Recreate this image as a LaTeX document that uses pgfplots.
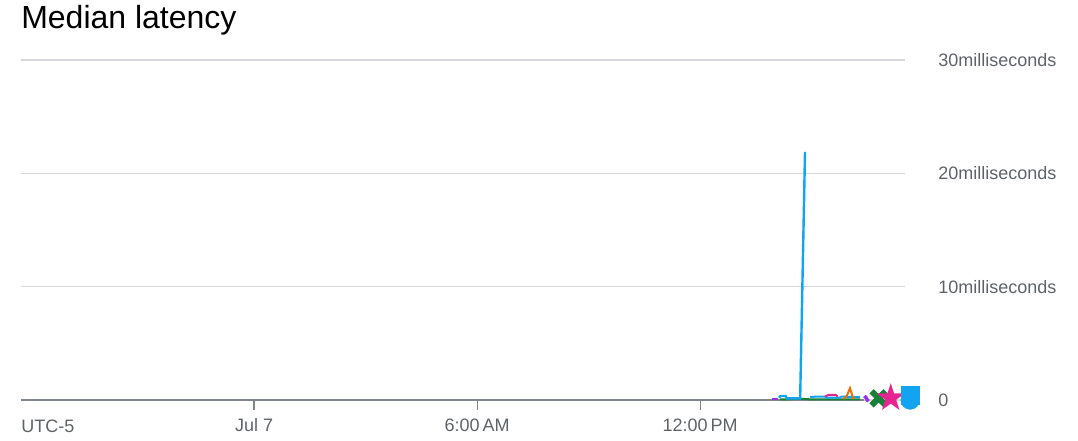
\documentclass[border=0pt]{standalone}
\usepackage{pgfplots}
\pgfplotsset{compat=1.18}
\usepackage{fontspec}
\setmainfont{Liberation Sans}
\newfontfamily\dejavu{DejaVu Sans}
\usetikzlibrary{plotmarks}
\definecolor{gridc}{HTML}{D5D7DB}
\definecolor{axisc}{HTML}{80868B}
\definecolor{labc}{HTML}{5F6368}
\definecolor{sblue}{HTML}{12A4F0}
\definecolor{sgreen}{HTML}{188038}
\definecolor{spink}{HTML}{E52592}
\definecolor{sorange}{HTML}{E8710A}
\definecolor{spurple}{HTML}{9334E6}
\begin{document}
\begin{tikzpicture}
\path[use as bounding box] (0pt,0pt) rectangle (808.5pt,330pt);
\node[anchor=base west,inner sep=0pt,font=\fontsize{24pt}{28pt}\selectfont] at (15.75pt,308.25pt) {Median latency};
\node[anchor=west,inner sep=0pt,text=labc,font=\fontsize{13.5pt}{16pt}\selectfont] at (15.75pt,10.5pt) {UTC-5};
\begin{axis}[
  at={(15.75pt,30pt)}, anchor=south west,
  scale only axis, width=663pt, height=255pt,
  xmin=-6.27, xmax=17.51, ymin=0, ymax=30,
  clip=false,
  axis line style={draw=none},
  ymajorgrids, grid style={gridc, line width=0.9pt},
  ytick={0,10,20,30},
  yticklabels={0,10milliseconds,20milliseconds,30milliseconds},
  yticklabel pos=right,
  ytick style={draw=none},
  yticklabel style={anchor=west, xshift=14pt, text=labc, font=\fontsize{13.5pt}{16pt}\selectfont},
  xtick={0,6,12},
  xticklabels={Jul 7,6:00\,AM,12:00\,PM},
  xtick pos=bottom,
  tick align=outside,
  major tick length=7.5pt,
  xtick style={draw=axisc, line width=0.9pt},
  xticklabel style={text=labc, font=\fontsize{13.5pt}{16pt}\selectfont, yshift=-3pt},
  /pgf/number format/assume math mode=true,
]
\addplot[axisc, line width=1.4pt, forget plot] coordinates {(-6.27,0) (16.4,0)};
\addplot[spurple, line width=1.5pt] coordinates {(13.93,0.08) (14.08,0.08)};
\addplot[spurple, line width=1.5pt, only marks, mark=*, mark size=0.8pt] coordinates {(16.45,0.25) (16.5,0.0)};
\addplot[sgreen, line width=1.5pt] coordinates {(14.15,0.05) (14.3,0.05) (14.6,0.1) (14.78,0.1) (15.0,0.05) (16.3,0.05)};
\addplot[sblue, line width=1.8pt] coordinates {(14.12,0.2) (14.16,0.35) (14.3,0.35) (14.33,0.15) (14.69,0.15) (14.82,21.9)};
\addplot[sblue, line width=1.5pt] coordinates {(14.96,0.25) (15.1,0.3) (15.36,0.3) (15.4,0.2) (15.75,0.2) (15.8,0.3) (16.3,0.25)};
\addplot[spink, line width=1.5pt] coordinates {(15.36,0.3) (15.45,0.45) (15.65,0.45) (15.7,0.3)};
\addplot[sorange, line width=1.5pt] coordinates {(15.85,0.1) (15.95,0.4) (16.03,1.05) (16.1,0.3) (16.15,0.1)};
\addplot[sgreen, only marks, mark=x, mark size=7.5pt, line width=4.5pt] coordinates {(16.80,0.15)};
\addplot[spink, only marks, mark=text, text mark={\textcolor{spink}{\dejavu\fontsize{28pt}{28pt}\selectfont ★}}] coordinates {(17.13,0.25)};
\addplot[sblue, only marks, mark=*, mark size=7pt] coordinates {(17.65,0.0)};
\addplot[sblue, only marks, mark=square*, mark size=6.8pt] coordinates {(17.65,0.4)};
\end{axis}
\end{tikzpicture}
\end{document}
